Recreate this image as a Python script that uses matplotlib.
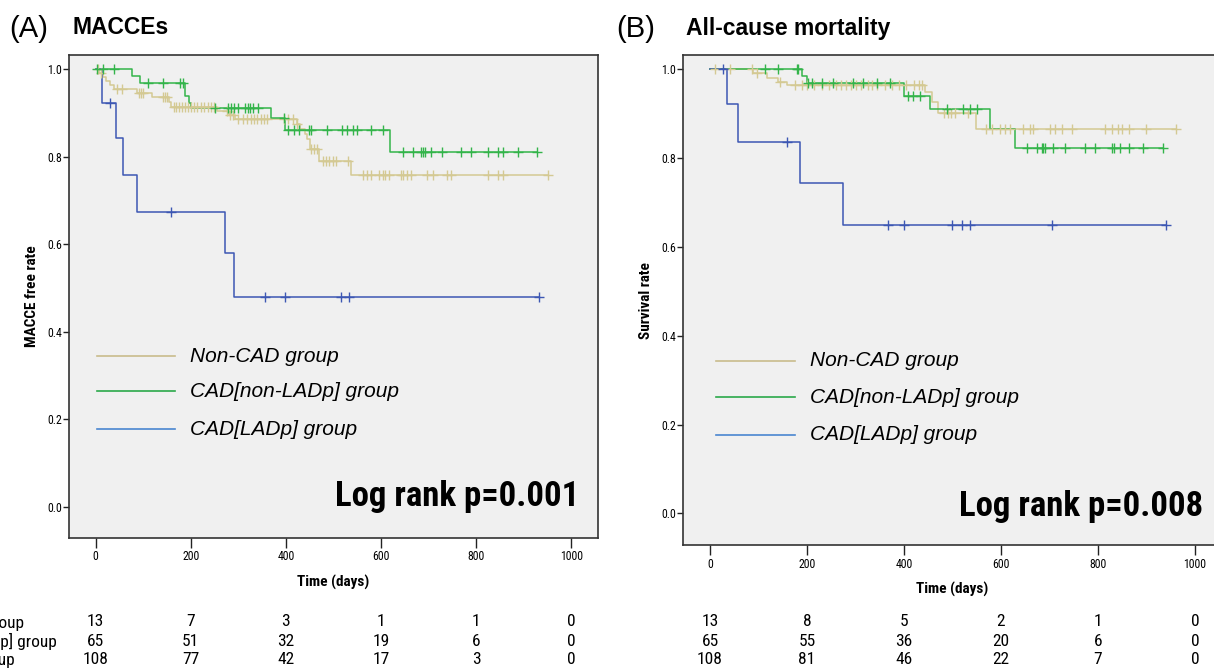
import numpy as np
import matplotlib
matplotlib.use("Agg")
import matplotlib.pyplot as plt
from matplotlib import font_manager
from matplotlib.transforms import blended_transform_factory

# ---------------- data ----------------
groups = ["Non-CAD group", "CAD[non-LADp] group", "CAD[LADp] group"]
colors = ["#d4c993", "#33b44a", "#3d57b3"]
legend_colors = ["#c9bc8c", "#2aa84a", "#4a86d0"]

# Panel A: MACCE-free rate
a_noncad_t = [8, 15, 22, 30, 38, 88, 119, 154, 159, 256, 280, 294, 424, 430, 440, 445, 450, 469, 536]
a_noncad_s = [0.991, 0.981, 0.972, 0.963, 0.954, 0.945, 0.935, 0.925, 0.913, 0.904, 0.895, 0.886,
              0.875, 0.863, 0.851, 0.840, 0.817, 0.791, 0.757]
a_noncad_c = [5, 12, 45, 55, 92, 96, 100, 141, 146, 151, 164, 170, 175, 182, 188, 195, 200, 207, 214,
              221, 228, 236, 243, 249, 277, 283, 288, 300, 310, 318, 326, 333, 340, 348, 355, 361,
              395, 405, 415, 424, 452, 459, 466, 477, 484, 491, 498, 505, 531, 563, 571, 578, 595,
              603, 609, 616, 641, 645, 655, 662, 697, 708, 739, 746, 824, 845, 857, 951]

a_nonlad_t = [76, 93, 189, 197, 201, 368, 399, 618]
a_nonlad_s = [0.985, 0.969, 0.938, 0.923, 0.912, 0.888, 0.861, 0.811]
a_nonlad_c = [4, 15, 38, 111, 141, 178, 183, 252, 279, 285, 292, 300, 315, 320, 325, 330, 342, 395,
              405, 416, 427, 448, 452, 487, 518, 529, 542, 550, 578, 605, 647, 668, 683, 687, 693,
              704, 729, 767, 788, 824, 845, 857, 887, 927]

a_lad_t = [14, 44, 58, 88, 272, 291]
a_lad_s = [0.923, 0.843, 0.758, 0.673, 0.579, 0.480]
a_lad_c = [31, 158, 357, 398, 515, 532, 932]

# Panel B: survival rate
b_noncad_t = [89, 117, 141, 158, 443, 457, 471, 548]
b_noncad_s = [0.991, 0.981, 0.972, 0.965, 0.949, 0.926, 0.902, 0.866]
b_noncad_c = [10, 41, 86, 96, 145, 175, 190, 200, 215, 230, 245, 260, 270, 280, 290, 300, 312,
              325, 335, 345, 360, 375, 390, 405, 420, 430, 438, 483, 490, 497, 505, 532, 570, 581,
              598, 608, 619, 646, 660, 667, 701, 711, 725, 746, 814, 828, 842, 849, 863, 899, 961]

b_nonlad_t = [189, 200, 399, 454, 577, 629]
b_nonlad_s = [0.985, 0.968, 0.940, 0.910, 0.866, 0.822]
b_nonlad_c = [113, 141, 179, 181, 202, 210, 230, 254, 295, 316, 344, 371, 409, 419, 433, 488, 522,
              536, 550, 653, 674, 684, 687, 691, 708, 732, 773, 794, 828, 832, 845, 863, 892, 935]

b_lad_t = [34, 58, 186, 274]
b_lad_s = [0.922, 0.837, 0.743, 0.650]
b_lad_c = [27, 158, 366, 400, 498, 519, 536, 705, 940]

# numbers at risk (rows: CAD[LADp], CAD[non-LADp], Non-CAD)
risk_times = [0, 200, 400, 600, 800, 1000]
risk_labels = ["CAD[LADp] group", "CAD[non-LADp] group", "Non-CAD group"]
a_risk = [[13, 7, 3, 1, 1, 0], [65, 51, 32, 19, 6, 0], [108, 77, 42, 17, 3, 0]]
b_risk = [[13, 8, 5, 2, 1, 0], [65, 55, 36, 20, 6, 0], [108, 81, 46, 22, 7, 0]]

xticks = [0, 200, 400, 600, 800, 1000]
yticks = [0.0, 0.2, 0.4, 0.6, 0.8, 1.0]

# ---------------- fonts ----------------
names = {f.name for f in font_manager.fontManager.ttflist}
NARROW = next((n for n in ["Liberation Sans Narrow", "Roboto Condensed", "Open Sans Condensed"]
               if n in names), None)
SANS = "Liberation Sans" if "Liberation Sans" in names else "DejaVu Sans"


def narrow(**kw):
    if NARROW:
        return dict(family=NARROW, **kw)
    return dict(family="DejaVu Sans", stretch="condensed", **kw)


W, H = 1214, 671
fig = plt.figure(figsize=(W / 100, H / 100), dpi=100)
fig.patch.set_facecolor("white")


def px_axes(l, t, r, b):
    return fig.add_axes([l / W, 1 - b / H, (r - l) / W, (b - t) / H])


def draw_panel(ax, curves, ylabel, logrank, leg_rows, leg_x, logrank_y):
    ax.set_facecolor("#f0f0f0")
    for (t, s, c), col in zip(curves, colors):
        t = np.asarray(t, float)
        s = np.asarray(s, float)
        c = np.asarray(c, float)
        tend = max(c.max(), t.max())
        xs = np.r_[0, t, tend]
        ys = np.r_[1.0, s, s[-1]]
        ax.step(xs, ys, where="post", color=col, lw=1.1, zorder=3)
        idx = np.searchsorted(t, c, side="right")
        cy = np.r_[1.0, s][idx]
        ax.plot(c, cy, ls="none", marker="+", ms=7, mew=1.0, color=col, zorder=4)
    ax.set_xlim(-55.7, 1055.7)
    ax.set_ylim(-0.071, 1.032)
    ax.set_xticks(xticks)
    ax.set_yticks(yticks)
    ax.set_xticklabels([str(v) for v in xticks], **narrow(size=8.5))
    ax.set_yticklabels([f"{v:.1f}" for v in yticks], **narrow(size=8.5))
    ax.tick_params(axis="x", direction="out", length=7, width=1.0, pad=2, color="#222222")
    ax.tick_params(axis="y", direction="out", length=4, width=1.0, pad=1, color="#222222")
    for sp in ax.spines.values():
        sp.set_linewidth(1.2)
        sp.set_color("#333333")
    ax.set_xlabel("Time (days)", labelpad=8, **narrow(size=11, weight="bold"))
    ax.set_ylabel(ylabel, labelpad=6, **narrow(size=11, weight="bold"))
    for (y, lab), lc in zip(zip(leg_rows, groups), legend_colors):
        ax.plot([leg_x[0], leg_x[1]], [y, y], transform=ax.transAxes, color=lc, lw=1.2)
        ax.text(leg_x[2], y, lab, transform=ax.transAxes, va="center", ha="left",
                family=SANS, style="italic", size=15)
    ax.text(0.965, logrank_y, logrank, transform=ax.transAxes, ha="right", va="center",
            **narrow(size=25, weight="bold"))


# Panel A
axA = px_axes(69, 55, 598, 538)
draw_panel(axA,
           [(a_noncad_t, a_noncad_s, a_noncad_c),
            (a_nonlad_t, a_nonlad_s, a_nonlad_c),
            (a_lad_t, a_lad_s, a_lad_c)],
           "MACCE free rate", "Log rank p=0.001",
           [0.376, 0.304, 0.225], (0.052, 0.200, 0.229), 0.086)

# Panel B
axB = px_axes(683, 55, 1222, 545)
draw_panel(axB,
           [(b_noncad_t, b_noncad_s, b_noncad_c),
            (b_nonlad_t, b_nonlad_s, b_nonlad_c),
            (b_lad_t, b_lad_s, b_lad_c)],
           "Survival rate", "Log rank p=0.008",
           [0.376, 0.302, 0.225], (0.061, 0.207, 0.236), 0.078)

# titles
fig.text(9 / W, 1 - 29 / H, "(A)", family=SANS, size=21, va="center", ha="left")
fig.text(72 / W, 1 - 28 / H, "MACCEs", family=SANS, size=16.5, weight="bold", va="center", ha="left")
fig.text(616 / W, 1 - 29 / H, "(B)", family=SANS, size=21, va="center", ha="left")
fig.text(686 / W, 1 - 28 / H, "All-cause mortality", family=SANS, size=16.5, weight="bold",
         va="center", ha="left")

# numbers at risk
row_y = [622, 641, 660]
for ax, risk in ((axA, a_risk), (axB, b_risk)):
    tr = blended_transform_factory(ax.transData, fig.transFigure)
    for ry, row in zip(row_y, risk):
        for t, n in zip(risk_times, row):
            ax.text(t, 1 - ry / H, str(n), transform=tr, ha="center", va="center",
                    clip_on=False, **narrow(size=12.5))

label_end = [24, 57, 15]
for ry, lab, xe in zip(row_y, risk_labels, label_end):
    fig.text(xe / W, 1 - ry / H, lab, ha="right", va="center", **narrow(size=12.5))

fig.savefig("out.png", dpi=100, facecolor="white")
